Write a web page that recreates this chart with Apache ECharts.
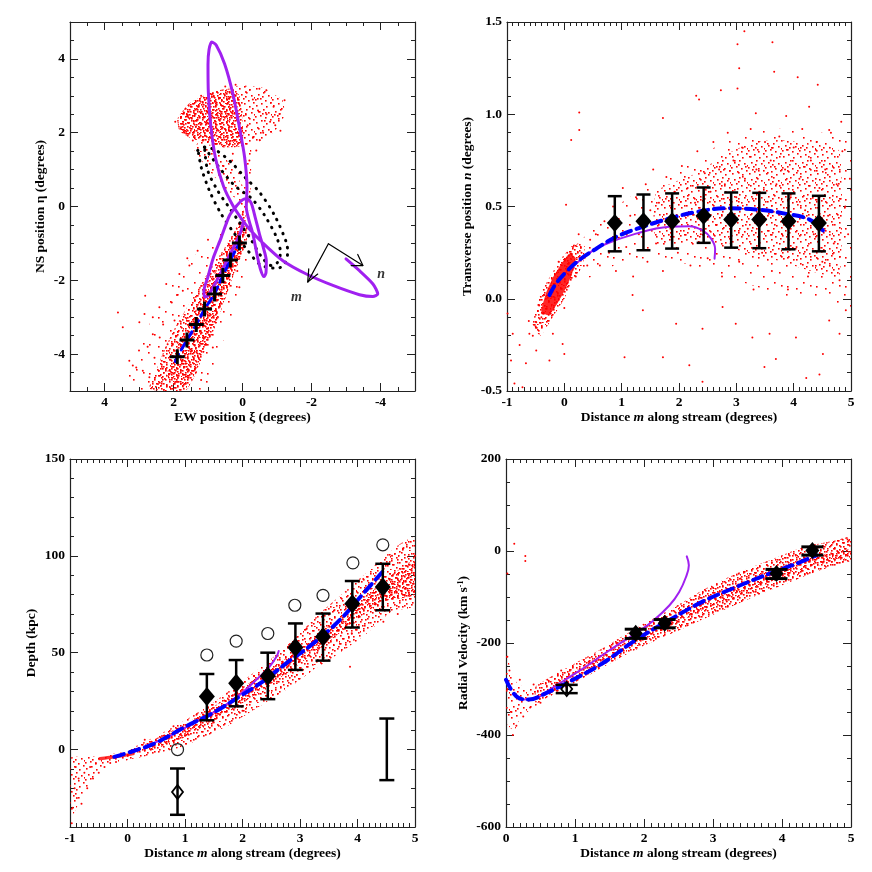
<!DOCTYPE html>
<html>
<head>
<meta charset="utf-8">
<script src="https://cdn.jsdelivr.net/npm/echarts@6/dist/echarts.min.js"></script>
<style>
  html, body { margin: 0; background: #fff; }
  #chart { width: 872px; height: 872px; }
</style>
</head>
<body>
<div id="chart"></div>
<script>
// ---------- panel 1 : sky positions (xi, eta) ----------
const p1Fringe = [[3.4,-5.1],[3.1,-4.0],[2.6,-3.0],[2.1,-2.2],[1.6,-1.5],[0.7,-0.8],[0.15,-0.25],[-0.2,-0.45],[-0.22,-1.2],[-0.02,-2.0],[0.3,-3.0],[0.7,-4.0],[1.0,-5.1]]
const p1Band = [[2.7,-4.94],[2.5,-4.45],[2.28,-3.91],[2.0,-3.37],[1.7,-2.88],[1.4,-2.42],[1.1,-1.95],[0.8,-1.52],[0.5,-1.09],[0.25,-0.71],[0.09,-0.38],[-0.03,-0.11],[-0.14,-0.43],[-0.12,-0.92],[0.09,-1.47],[0.32,-2.01],[0.52,-2.55],[0.72,-3.09],[0.96,-3.64],[1.25,-4.18],[1.45,-4.67],[1.68,-5.02]]
const p1BandCore = [[2.2,-4.6],[1.95,-4.0],[1.65,-3.35],[1.35,-2.8],[1.05,-2.25],[0.75,-1.7],[0.45,-1.2],[0.2,-0.75],[0.05,-0.4],[-0.08,-0.6],[-0.05,-1.1],[0.2,-1.7],[0.45,-2.35],[0.7,-3.0],[1.0,-3.7],[1.3,-4.4],[1.6,-4.95]]
const p1Head = [[1.83,2.06],[1.88,2.39],[1.54,2.80],[0.96,3.07],[0.09,3.28],[-0.55,3.23],[-1.16,2.88],[-1.22,2.47],[-1.01,2.12],[-0.72,1.87],[-0.20,1.66],[0.32,1.60],[0.87,1.71],[1.39,1.85]]
const p1HeadCore = [[1.83,2.06],[1.88,2.39],[1.54,2.80],[0.96,3.07],[0.32,3.20],[0.09,3.01],[0.0,2.33],[0.0,1.66],[0.52,1.60],[1.10,1.74],[1.54,1.87]]
const p1Neck = [[1.25,1.79],[0.81,1.60],[0.32,1.11],[0.0,0.57],[-0.12,1.25],[-0.17,1.57],[-0.26,1.52],[-0.23,0.30],[-0.17,-0.24],[0.0,-0.24],[0.14,0.16],[0.52,0.49],[1.01,1.03],[1.39,1.52]]
const p1Stars = [[3.61,-2.87],[3.47,-3.27],[2.99,-3.14],[2.84,-2.91],[2.82,-2.42],[2.41,-2.73],[2.21,-2.10],[1.83,-1.83],[1.54,-1.60],[1.73,-2.28],[2.60,-3.46],[3.18,-4.31],[2.89,-4.45],[2.31,-4.40],[2.70,-4.63],[2.45,-4.81],[3.28,-4.18],[1.97,-3.09],[2.17,-3.73],[3.08,-4.36],[2.55,-4.1],[2.3,-3.2],[2.05,-2.6],[1.9,-2.4],[2.6,-3.0],[2.75,-3.8],[3.0,-3.9],[2.4,-3.55],[2.1,-4.9],[1.9,-4.75],[1.2,-4.7],[1.35,-4.5],[0.86,-3.82],[1.0,-3.3],[0.75,-2.9],[0.45,-2.2],[0.09,-2.19],[0.28,-1.56],[0.15,-1.75],[1.6,-1.4],[1.3,-1.2],[1.0,-0.9],
  [-1.22,2.88],[-1.07,2.51],[-0.69,3.15],[-0.49,3.19],[-0.30,1.88],[-0.40,1.52],[-0.20,1.25],[0.28,1.43],[1.44,1.79],[1.63,1.97],[1.78,2.15],[-0.9,2.7],[-0.8,2.3],[-0.6,2.0],[-0.95,2.2],[-1.1,2.05],[-0.3,2.9],[-0.1,3.1],[0.5,3.25],[0.3,1.25],[0.1,0.9],[0.55,1.1],[-0.45,2.6],[-0.7,2.5],[-0.15,2.2],[-0.5,1.8],[0.2,3.3],[1.2,3.0],[1.7,2.55],[1.95,2.3]]
const p1Orbit = [[-3.00,-1.42],[-3.39,-1.74],[-3.78,-2.10],[-3.92,-2.37],[-3.78,-2.44],[-3.39,-2.39],[-2.62,-2.14],[-1.85,-1.83],[-1.17,-1.47],[-0.59,-0.99],[-0.20,-0.61],[-0.01,-0.38],
  [0.28,0.03],[0.55,0.55],[0.78,1.3],[0.92,2.2],[0.99,3.1],[1.0,3.85],[0.97,4.25],[0.89,4.46],
  [0.76,4.37],[0.52,3.87],[0.28,3.06],[0.09,2.15],[-0.06,1.34],[-0.13,0.52],[-0.11,-0.02],
  [-0.18,-0.35],[-0.30,-0.74],[-0.42,-1.3],[-0.52,-1.7],[-0.62,-1.9],[-0.68,-1.8],[-0.69,-1.47],[-0.6,-1.1],[-0.49,-0.74],[-0.37,-0.3],[-0.25,0.1],[-0.12,0.22],[0.0,0.18],[0.16,0.03],
  [0.38,-0.25],[0.62,-0.85],[0.85,-1.4],[1.0,-1.9],[1.12,-2.3],[1.1,-2.45],[1.0,-2.42],[0.8,-2.1],[0.62,-1.78],[0.33,-1.24],[0.09,-0.79],[-0.03,-0.4]]
const p1OuterLoop = [[1.30,1.52],[1.10,1.61],[0.76,1.52],[0.33,1.20],[-0.06,0.80],[-0.49,0.39],[-0.93,-0.24],[-1.27,-0.97],[-1.31,-1.24],[-1.22,-1.56],[-1.07,-1.66],[-0.88,-1.67],[-0.49,-1.56],[-0.15,-1.19],[0.23,-0.74],[0.62,-0.20],[0.96,0.43],[1.20,1.07],[1.27,1.43],[1.30,1.52]]
const p1InnerLoop = [[1.10,1.60],[0.72,1.11],[0.23,0.57],[-0.26,0.22],[-0.64,-0.24],[-0.99,-0.84],[-1.10,-1.25],[-1.01,-1.52],[-0.84,-1.60],[-0.55,-1.36],[-0.26,-0.92],[0.09,-0.43],[0.43,0.03],[0.72,0.43],[1.01,0.98],[1.10,1.60]]
const p1Track = [[1.95,-4.2],[1.89,-4.07],[1.61,-3.62],[1.34,-3.20],[1.10,-2.78],[0.81,-2.37],[0.57,-1.87],[0.35,-1.45],[0.09,-0.99]]
const p1Fields = [[1.89,-4.07],[1.61,-3.62],[1.34,-3.20],[1.10,-2.78],[0.81,-2.37],[0.57,-1.87],[0.35,-1.45],[0.09,-0.99]]
const arrowM = [[-2.49,-1.01],[-1.89,-2.05]]
const arrowMHead = [[-1.92,-1.69],[-1.89,-2.05],[-2.18,-1.83]]
const arrowN = [[-2.49,-1.01],[-3.49,-1.60]]
const arrowNHead = [[-3.15,-1.60],[-3.49,-1.60],[-3.34,-1.30]]
const arrowLabels = [[-1.56,-2.46,'m'],[-4.02,-1.83,'n']]

// ---------- panel 2 : transverse position n vs m ----------
const p2Core = [[-0.4,-0.07],[-0.32,0.03],[-0.19,0.12],[-0.05,0.19],[0.09,0.245],[0.2,0.22],[0.13,0.13],[0.0,0.04],[-0.13,-0.03],[-0.27,-0.09]]
const p2Halo = [[-0.55,-0.14],[-0.42,0.02],[-0.25,0.12],[-0.05,0.22],[0.15,0.29],[0.35,0.3],[0.32,0.18],[0.15,0.1],[0.0,0.0],[-0.2,-0.1],[-0.42,-0.2]]
const p2Cloud = [[0.0,0.22],[0.5,0.38],[1.0,0.52],[1.5,0.62],[2.0,0.7],[2.5,0.8],[3.0,0.88],[3.5,0.92],[4.0,0.92],[4.5,0.9],[5.0,0.88],[5.0,-0.05],[4.5,-0.02],[4.0,0.0],[3.5,0.05],[3.0,0.1],[2.5,0.15],[2.0,0.2],[1.5,0.22],[1.0,0.2],[0.5,0.12],[0.1,0.1]]
const p2CloudCore = [[1.6,0.58],[2.3,0.68],[2.8,0.78],[3.3,0.85],[3.8,0.86],[4.3,0.84],[4.8,0.8],[4.8,0.12],[4.3,0.15],[3.8,0.2],[3.3,0.24],[2.8,0.28],[2.3,0.3],[1.6,0.3]]
const p2Stars = [[3.14,1.45],[3.02,1.38],[3.63,1.39],[3.05,1.25],[3.66,1.23],[4.07,1.20],[4.42,1.16],[2.73,1.13],[3.02,1.14],[2.30,1.10],[2.35,1.08],[0.26,1.01],[0.26,0.915],[0.12,0.86],[0.03,0.51],[1.72,0.98],[3.34,1.005],[3.87,0.99],[4.83,0.96],[4.62,0.915],[4.27,1.04],
  [1.19,0.02],[1.37,-0.063],[1.95,-0.136],[2.41,-0.163],[2.99,-0.136],[3.58,-0.19],[4.04,-0.21],[4.51,-0.30],[3.69,-0.326],[4.45,-0.41],[4.22,-0.43],[3.49,-0.37],[1.05,-0.317],[1.72,-0.317],[2.41,-0.45],[2.18,-0.36],[4.62,-0.118],[4.91,-0.063],[4.80,-0.19],[3.28,-0.21],[2.76,-0.045],
  [-0.99,-0.08],[-0.90,-0.19],[-0.78,-0.25],[-0.93,-0.335],[-0.87,-0.46],[-0.73,-0.48],[-0.61,-0.19],[-0.49,-0.127],[-0.38,-0.08],[-0.49,-0.28],[-0.67,-0.35],[-0.20,-0.19],[0.0,-0.30],[-0.03,-0.245],[-0.26,-0.335],[-0.44,-0.036],
  [0.55,0.35],[0.62,0.18],[0.7,0.42],[0.78,0.25],[0.85,0.5],[0.9,0.15],[0.95,0.33],[1.02,0.6],[1.08,0.28],[1.15,0.45],[1.2,0.12],[1.25,0.55],[1.3,0.35],[1.42,0.62],[1.45,0.2],[1.5,0.48],
  [1.55,0.7],[1.6,0.3],[1.65,0.52],[1.72,0.15],[1.78,0.66],[1.85,0.38],[1.92,0.58],[1.98,0.25],[2.05,0.72],[2.1,0.45],[2.15,0.6],[2.2,0.18],[2.28,0.52],[2.32,0.8],[2.38,0.35],[2.45,0.68],[2.5,0.22],
  [2.55,0.58],[2.6,0.85],[2.65,0.4],[2.7,0.7],[2.75,0.12],[2.8,0.62],[2.85,0.9],[2.9,0.3],[2.95,0.75],[3.0,0.55],[3.05,0.2],[3.1,0.82],[3.15,0.65],[3.2,0.38],[3.25,0.92],[3.3,0.05],[3.35,0.7],[3.4,0.58],[3.45,0.25],[3.5,0.85],
  [3.55,0.45],[3.6,0.75],[3.62,0.15],[3.7,0.62],[3.75,0.88],[3.8,0.35],[3.85,0.7],[3.9,0.05],[3.95,0.55],[4.0,0.82],[4.05,0.28],[4.1,0.65],[4.15,0.92],[4.2,0.48],[4.25,0.12],[4.3,0.75],[4.35,0.35],[4.4,0.85],[4.45,0.6],[4.5,0.2],
  [4.55,0.7],[4.6,0.45],[4.65,0.9],[4.7,0.3],[4.75,0.62],[4.8,0.1],[4.85,0.8],[4.9,0.5],[4.95,0.35],[4.98,0.65],
  [-0.4,-0.1],[-0.35,0.02],[-0.1,0.2],[0.05,0.25],[0.15,0.28],[0.2,0.12],[0.3,0.25],[0.4,0.18],[-0.5,-0.15],[-0.55,-0.2],[-0.62,-0.12],[0.0,-0.05],[0.45,0.32],[0.25,0.35]]
const p2Model = [[-0.26,0.02],[-0.15,0.08],[0.03,0.145],[0.26,0.21],[0.55,0.27],[0.90,0.335],[1.37,0.39],[1.83,0.435],[2.30,0.47],[2.82,0.49],[3.34,0.484],[3.87,0.46],[4.27,0.43],[4.51,0.37]]
const p2Orbit = [[0.10,0.16],[0.4,0.24],[0.67,0.29],[1.25,0.353],[1.83,0.39],[2.18,0.393],[2.41,0.37],[2.56,0.326],[2.63,0.27],[2.62,0.217]]
const p2M = [0.88,1.38,1.88,2.43,2.91,3.40,3.91,4.44]
const p2N = [0.41,0.42,0.42,0.45,0.43,0.43,0.42,0.41]
const p2Lo = [0.257,0.263,0.272,0.303,0.277,0.274,0.268,0.257]
const p2Hi = [0.556,0.565,0.571,0.603,0.576,0.574,0.571,0.558]

// ---------- panel 3 : depth vs m ----------
const p3Band = [[0,-0.9],[0.49,6.8],[1.02,15.4],[1.48,24.0],[1.95,34.2],[2.41,44.5],[2.88,56.5],[3.34,70.2],[3.81,82.2],[4.27,94.2],[4.74,106.2],[5.0,109.6],[5.0,73.6],[4.62,71.9],[4.16,59.9],[3.69,49.7],[3.23,41.1],[2.76,30.8],[2.30,22.3],[1.83,13.7],[1.37,6.8],[0.90,0.9],[0.44,-2.6],[0,-5.1]]
const p3BandCore = [[0.3,2.5],[1.0,13.0],[1.9,30.0],[2.8,48.0],[3.7,68.0],[4.5,88.0],[5.0,98.0],[5.0,80.0],[4.4,76.0],[3.6,58.0],[2.8,40.0],[1.9,22.0],[1.0,6.5],[0.3,-1.5]]
const p3Tail = [[-1,-4.5],[-0.5,-3.5],[0,-1],[0,-5.5],[-0.3,-7],[-0.5,-10.5],[-0.65,-17],[-0.8,-25],[-1,-36]]
const p3Strip = [[-0.5,-4.0],[-0.2,-3.0],[0.12,-1.5],[0.12,-2.8],[-0.2,-4.5],[-0.5,-5.5]]
const p3Stars = [[-0.95,-30],[-0.92,-20],[-0.85,-15],[-0.8,-28],[-0.75,-12],[-0.7,-20],[-0.65,-9],[-0.6,-15],[-0.55,-7],[-0.9,-9],[-0.97,-38],[-0.88,-25],[-0.5,-12],[-0.4,-9],[-0.3,-7],[-0.2,-6.5],
  [0.3,5],[0.6,7],[0.8,12],[1.0,8],[1.2,18],[1.5,14],[1.7,22],[2.0,20],[2.2,38],[2.6,35],[2.9,48],[3.1,62],[3.3,50],[3.6,72],[3.9,60],[4.1,88],[4.3,75],[4.6,100],[4.8,104],[4.9,80],[4.95,95],[4.7,70],[3.87,42.8],[4.45,66],[5.0,100]]
const p3Model = [[-0.23,-3.8],[0.09,-0.9],[0.49,3.4],[1.02,12.0],[1.48,18.8],[1.95,27.4],[2.35,35.1],[2.76,44.5],[3.23,54.8],[3.69,66.8],[4.10,80.5],[4.48,93.3]]
const p3Orbit = [[0.32,1.7],[0.7,6.5],[1.2,14.5],[1.6,21.0],[1.95,28.3],[2.30,37.7],[2.47,42.8],[2.59,47.9],[2.63,50.9]]
const p3M = [1.38,1.89,2.44,2.92,3.40,3.91,4.44]
const p3D = [27.4,34.2,38.0,52.7,58.2,75.3,83.9]
const p3Lo = [15.1,22.3,26.0,41.1,45.9,63.0,71.9]
const p3Hi = [39.0,46.2,50.0,65.1,70.2,87.0,95.9]
const p3Open = [[0.87,-21.9]]
const p3OpenLo = [-33.7]
const p3OpenHi = [-9.8]
const p3CircM = [0.87,1.38,1.89,2.44,2.91,3.40,3.92,4.44]
const p3CircD = [0,48.8,56.0,59.9,74.5,79.6,96.4,105.7]
const p3Sample = [[4.51,-15.8,16.0]]

// ---------- panel 4 : radial velocity vs m ----------
const p4Band = [[0.43,-294.6],[0.92,-251],[1.40,-211.6],[1.88,-168],[2.37,-128.5],[2.85,-85.2],[3.34,-49.1],[3.82,-20.2],[4.31,8.7],[4.79,23.1],[5,30.3],[5,-20],[4.55,-42],[4.06,-71],[3.58,-100],[3.10,-132],[2.61,-165],[2.13,-197],[1.64,-233],[1.16,-273],[0.67,-313],[0.43,-330]]
const p4BandCore = [[0.7,-290],[1.4,-225],[2.1,-172],[2.8,-110],[3.5,-62],[4.2,-22],[5,5],[5,-12],[4.2,-45],[3.5,-88],[2.8,-132],[2.1,-185],[1.4,-243],[0.7,-305]]
const p4Knot = [[0.0,-225],[0.06,-250],[0.15,-285],[0.3,-300],[0.45,-300],[0.5,-330],[0.35,-345],[0.2,-365],[0.12,-390],[0.03,-380],[0.0,-360]]
const p4Stars = [[0.12,16],[0.02,-49],[0.28,-11],[0.28,-22],[0.02,-230],[0.05,-260],[0.08,-350],[0.15,-380],[0.1,-400],[0.25,-360],[0.35,-340],[0.5,-330],[0.02,-300],[0.2,-280],[0.4,-290],[0.6,-280],[0.8,-260],[1.2,-240],[1.6,-200],[2.0,-190],[2.4,-150],[2.8,-100],[3.2,-110],[3.6,-60],[4.0,-40],[4.4,-20],[4.8,0],[4.95,25],[4.6,10],[4.2,-10],[3.4,-60],[3.0,-80]]
const p4Model = [[0,-280],[0.09,-305],[0.19,-320],[0.33,-323],[0.58,-309],[0.92,-284],[1.40,-244],[1.88,-193.5],[2.37,-150],[2.85,-110],[3.34,-78],[3.82,-49],[4.21,-27.4],[4.50,-9.4]]
const p4Orbit = [[0.19,-323],[0.43,-320],[0.67,-298],[0.92,-274],[1.16,-251],[1.40,-226],[1.64,-202],[1.88,-179],[2.13,-152],[2.37,-118],[2.51,-89],[2.61,-56],[2.65,-31],[2.62,-11.6]]
const p4M = [1.88,2.30,3.92,4.44]
const p4V = [-179,-157,-49,1]
const p4Lo = [-190,-167,-60,-9]
const p4Hi = [-170,-149,-40,9]
const p4Open = [[0.88,-300]]
const p4OpenLo = [-309]
const p4OpenHi = [-291]

// ---------- styling / layout ----------
const FONT = '"Liberation Serif", "DejaVu Serif", serif'
const RED = '#ff0000'
const PURPLE = '#a020f0'
const BLUE = '#0000ff'
const grids = [
  { left: 70, top: 22, width: 345, height: 369 },
  { left: 507, top: 22, width: 344, height: 369 },
  { left: 70, top: 459, width: 345, height: 368 },
  { left: 506, top: 459, width: 345, height: 368 }
]
const nameStyle = {
  fontFamily: FONT, fontWeight: 'bold', fontSize: 13.5, color: '#000',
  rich: {
    i: { fontFamily: FONT, fontWeight: 'bold', fontStyle: 'italic', fontSize: 13.5, color: '#000' },
    sup: { fontFamily: FONT, fontWeight: 'bold', fontSize: 8, color: '#000', verticalAlign: 'top', lineHeight: 10 }
  }
}
const fmtInt = v => String(Math.round(v))
const fmt1 = v => v.toFixed(1)

const axisSpecs = [
  { x: { min: -5, max: 5, inverse: true, minor: 0.5, majors: [-4, -2, 0, 2, 4], fmt: fmtInt, name: 'EW position ξ (degrees)', gap: 19 },
    y: { min: -5, max: 5, minor: 0.5, majors: [-4, -2, 0, 2, 4], fmt: fmtInt, name: 'NS position η (degrees)', gap: 22 } },
  { x: { min: -1, max: 5, minor: 0.1, majors: [-1, 0, 1, 2, 3, 4, 5], fmt: fmtInt, name: 'Distance {i|m} along stream (degrees)', gap: 19 },
    y: { min: -0.5, max: 1.5, minor: 0.1, majors: [-0.5, 0, 0.5, 1, 1.5], fmt: fmt1, name: 'Transverse position {i|n} (degrees)', gap: 32 } },
  { x: { min: -1, max: 5, minor: 0.1, majors: [-1, 0, 1, 2, 3, 4, 5], fmt: fmtInt, name: 'Distance {i|m} along stream (degrees)', gap: 19 },
    y: { min: -40, max: 150, minor: 10, majors: [0, 50, 100, 150], fmt: fmtInt, name: 'Depth (kpc)', gap: 31 } },
  { x: { min: 0, max: 5, minor: 0.1, majors: [0, 1, 2, 3, 4, 5], fmt: fmtInt, name: 'Distance {i|m} along stream (degrees)', gap: 19 },
    y: { min: -600, max: 200, minor: 50, majors: [-600, -400, -200, 0, 200], fmt: fmtInt, name: 'Radial Velocity (km s{sup|-1})', gap: 35 } }
]

// four axes per side pair: main(labels+minor ticks), major ticks, opposite minor, opposite major
function sideAxes(g, spec, dim) {
  const sides = dim === 'x' ? ['bottom', 'top'] : ['left', 'right']
  const tickStyle = { color: '#222', width: 1 }
  const list = []
  sides.forEach((side, k) => {
    const common = { gridIndex: g, type: 'value', position: side, offset: 0, min: spec.min, max: spec.max, inverse: !!spec.inverse, splitLine: { show: false } }
    list.push(Object.assign({}, common, {
      interval: spec.minor,
      axisLine: { show: true, onZero: false, lineStyle: { color: '#222', width: 1.2 } },
      axisTick: { show: true, inside: true, length: 4, lineStyle: tickStyle },
      axisLabel: k === 0
        ? { show: true, customValues: spec.majors, formatter: spec.fmt, margin: 5, color: '#000', fontFamily: FONT, fontWeight: 'bold', fontSize: 13.5 }
        : { show: false },
      name: k === 0 ? spec.name : '',
      nameLocation: 'middle',
      nameGap: spec.gap,
      nameTextStyle: nameStyle
    }))
    list.push(Object.assign({}, common, {
      axisLine: { show: false, onZero: false },
      axisTick: { show: true, inside: true, length: 8, customValues: spec.majors, lineStyle: tickStyle },
      axisLabel: { show: false }
    }))
  })
  return list
}

const xAxes = [], yAxes = []
axisSpecs.forEach((s, g) => {
  xAxes.push(...sideAxes(g, s.x, 'x'))
  yAxes.push(...sideAxes(g, s.y, 'y'))
})

// stipple textures for the particle clouds (fill style only)
function stipple(size, dots) {
  const c = document.createElement('canvas')
  c.width = size; c.height = size
  const ctx = c.getContext('2d')
  ctx.fillStyle = '#ff0000'
  dots.forEach(d => ctx.fillRect(d[0], d[1], 1.6, 1.6))
  return { image: c, repeat: 'repeat' }
}
const DOTS_A = stipple(17, [[1,3],[6,1],[11,4],[15,0],[3,9],[8,7],[13,10],[0,14],[5,13],[10,15],[16,12],[7,11]])
const DOTS_B = stipple(19, [[2,1],[9,3],[14,2],[17,8],[5,6],[11,9],[0,11],[7,14],[13,13],[3,17],[16,16],[10,18],[18,4],[6,10]])
const DOTS_C = stipple(23, [[4,2],[12,5],[19,1],[1,8],[8,11],[16,9],[21,14],[5,17],[13,19],[10,0],[18,21],[2,21],[14,13],[7,5],[22,6],[0,15]])
const DOTS_D = stipple(13, [[2,2],[8,0],[11,6],[5,5],[0,9],[7,10],[12,12],[4,12]])
const DOTS_E = stipple(11, [[1,1],[7,3],[4,7],[9,9],[0,5],[6,0]])
const DOTS_S = stipple(29, [[3,4],[17,2],[25,11],[9,15],[20,21],[4,25],[13,27],[27,24]])

function onGrid(g, obj) {
  return Object.assign({ xAxisIndex: 4 * g, yAxisIndex: 4 * g, silent: true }, obj)
}
function cloud(g, pts, fill, z) {
  return onGrid(g, {
    type: 'custom', clip: true, z: z || 1,
    data: [pts[0]],
    renderItem: (params, api) => ({
      type: 'polygon',
      shape: { points: pts.map(p => api.coord(p)), smooth: 0.15 },
      style: { fill: fill }
    })
  })
}
function clouds(g, pts, fills) {
  return fills.map(f => cloud(g, pts, f))
}
function stars(g, pts) {
  return onGrid(g, { type: 'scatter', data: pts, symbol: 'circle', symbolSize: 2, itemStyle: { color: RED, opacity: 1 }, z: 2 })
}
function curve(g, pts, color, width, type, z, smooth) {
  return onGrid(g, {
    type: 'line', data: pts, showSymbol: false, smooth: smooth === undefined ? 0.4 : smooth, z: z,
    lineStyle: { color: color, width: width, type: type || 'solid', cap: 'round' }
  })
}
function errBars(g, rows, cap, width, z) {
  return onGrid(g, {
    type: 'custom', clip: true, z: z || 6,
    data: rows,
    encode: { x: 0, y: [1, 2] },
    renderItem: (params, api) => {
      const x = api.value(0)
      const a = api.coord([x, api.value(1)])
      const b = api.coord([x, api.value(2)])
      const st = { stroke: '#000', lineWidth: width }
      return {
        type: 'group',
        children: [
          { type: 'line', shape: { x1: a[0], y1: a[1], x2: b[0], y2: b[1] }, style: st },
          { type: 'line', shape: { x1: a[0] - cap / 2, y1: a[1], x2: a[0] + cap / 2, y2: a[1] }, style: st },
          { type: 'line', shape: { x1: b[0] - cap / 2, y1: b[1], x2: b[0] + cap / 2, y2: b[1] }, style: st }
        ]
      }
    }
  })
}
function zip(xs, ys) { return xs.map((x, i) => [x, ys[i]]) }
function zip3(xs, a, b) { return xs.map((x, i) => [x, a[i], b[i]]) }
function marks(g, data, symbol, size, style, z) {
  return onGrid(g, { type: 'scatter', data: data, symbol: symbol, symbolSize: size, itemStyle: Object.assign({ opacity: 1 }, style), z: z || 7 })
}

const PLUS = 'path://M4,0H6V4H10V6H6V10H4V6H0V4H4Z'
const HOLLOW = { color: 'rgba(0,0,0,0)', borderColor: '#000', borderWidth: 1.8 }

const series = [
  // panel 1
  ...clouds(0, p1Fringe, [DOTS_S]),
  ...clouds(0, p1Band, [DOTS_A, DOTS_C, DOTS_E]),
  ...clouds(0, p1BandCore, [DOTS_B, DOTS_D]),
  ...clouds(0, p1Head, [DOTS_A, DOTS_S]),
  ...clouds(0, p1HeadCore, [DOTS_B, DOTS_C, DOTS_D, DOTS_E]),
  ...clouds(0, p1Neck, [DOTS_B]),
  stars(0, p1Stars),
  curve(0, p1OuterLoop, '#000', 3, [0.5, 7], 3, 0.3),
  curve(0, p1InnerLoop, '#000', 3, [0.5, 7], 3, 0.3),
  curve(0, p1Orbit, PURPLE, 3, 'solid', 4, 0.25),
  curve(0, p1Track, BLUE, 3, [8, 5], 5, false),
  marks(0, p1Fields, PLUS, 15, { color: '#000' }, 6),
  curve(0, arrowM, '#000', 1.2, 'solid', 6, false),
  curve(0, arrowMHead, '#000', 1.2, 'solid', 6, false),
  curve(0, arrowN, '#000', 1.2, 'solid', 6, false),
  curve(0, arrowNHead, '#000', 1.2, 'solid', 6, false),
  onGrid(0, {
    type: 'scatter', data: arrowLabels, symbolSize: 1, itemStyle: { color: 'rgba(0,0,0,0)' }, z: 6,
    label: { show: true, position: 'inside', formatter: p => p.data[2], fontFamily: FONT, fontStyle: 'italic', fontWeight: 'bold', fontSize: 14, color: '#000' }
  }),
  // panel 2
  ...clouds(1, p2Cloud, [DOTS_S]),
  ...clouds(1, p2CloudCore, [DOTS_A]),
  ...clouds(1, p2Halo, [DOTS_B, DOTS_C, DOTS_D]),
  cloud(1, p2Core, 'rgba(255,0,0,0.85)'),
  stars(1, p2Stars),
  curve(1, p2Orbit, PURPLE, 2, 'solid', 4),
  curve(1, p2Model, BLUE, 4, [10, 6], 5),
  errBars(1, zip3(p2M, p2Lo, p2Hi), 14, 2.5),
  marks(1, zip(p2M, p2N), 'diamond', [16, 18], { color: '#000' }),
  // panel 3
  ...clouds(2, p3Tail, [DOTS_A]),
  ...clouds(2, p3Band, [DOTS_A, DOTS_B]),
  ...clouds(2, p3BandCore, [DOTS_C, DOTS_D, DOTS_E]),
  cloud(2, p3Strip, 'rgba(255,0,0,0.8)'),
  stars(2, p3Stars),
  curve(2, p3Orbit, PURPLE, 2, 'solid', 4),
  curve(2, p3Model, BLUE, 4, [10, 6], 5),
  errBars(2, zip3(p3M, p3Lo, p3Hi), 15, 2.5),
  errBars(2, p3Open.map((p, i) => [p[0], p3OpenLo[i], p3OpenHi[i]]), 15, 2.5),
  errBars(2, p3Sample, 15, 2.5),
  marks(2, zip(p3M, p3D), 'diamond', [16, 19], { color: '#000' }),
  marks(2, p3Open, 'diamond', [11, 14], HOLLOW),
  marks(2, zip(p3CircM, p3CircD), 'circle', 12, { color: 'rgba(0,0,0,0)', borderColor: '#222', borderWidth: 1.2 }),
  // panel 4
  ...clouds(3, p4Knot, [DOTS_A]),
  ...clouds(3, p4Band, [DOTS_A, DOTS_B, DOTS_E]),
  ...clouds(3, p4BandCore, [DOTS_C, DOTS_D]),
  stars(3, p4Stars),
  curve(3, p4Orbit, PURPLE, 2, 'solid', 4),
  curve(3, p4Model, BLUE, 4, [10, 6], 5),
  errBars(3, zip3(p4M, p4Lo, p4Hi), 22, 3),
  errBars(3, p4Open.map((p, i) => [p[0], p4OpenLo[i], p4OpenHi[i]]), 22, 2.5),
  marks(3, zip(p4M, p4V), 'diamond', [14, 17], { color: '#000' }),
  marks(3, p4Open, 'diamond', [11, 14], HOLLOW)
]

const chart = echarts.init(document.getElementById('chart'), null, { renderer: 'canvas' })
chart.setOption({
  animation: false,
  backgroundColor: '#fff',
  grid: grids.map(g => Object.assign({ outerBoundsMode: 'none', containLabel: false }, g)),
  xAxis: xAxes,
  yAxis: yAxes,
  series: series
})
</script>
</body>
</html>
